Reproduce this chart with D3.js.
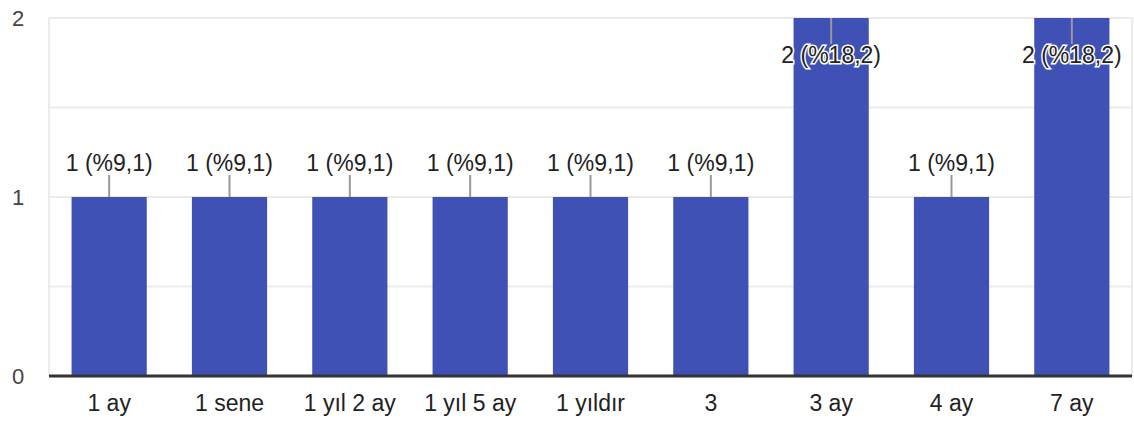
<!DOCTYPE html>
<html>
<head>
<meta charset="utf-8">
<script src="https://cdn.jsdelivr.net/npm/d3@7"></script>
<style>
  body { margin: 0; background: #fff; }
  text { font-family: "Liberation Sans", Arial, sans-serif; }
</style>
</head>
<body>
<div id="chart"></div>
<script>
const categories = ["1 ay", "1 sene", "1 yıl 2 ay", "1 yıl 5 ay", "1 yıldır", "3", "3 ay", "4 ay", "7 ay"];
const counts = [1, 1, 1, 1, 1, 1, 2, 1, 2];
const percents = ["9,1", "9,1", "9,1", "9,1", "9,1", "9,1", "18,2", "9,1", "18,2"];
const yTicks = [0, 1, 2];
const gridTicks = [0.5, 1, 1.5, 2];

const W = 1134, H = 426;
const margin = {top: 18, right: 2, bottom: 50, left: 49};
const width = W - margin.left - margin.right,
      height = H - margin.top - margin.bottom;

const svg = d3.select("#chart").append("svg")
    .attr("width", W).attr("height", H);
const g = svg.append("g")
    .attr("transform", `translate(${margin.left},${margin.top})`);

const x = d3.scaleBand()
    .domain(categories)
    .range([0, width])
    .paddingInner(0.375)
    .paddingOuter(0.1875);

const y = d3.scaleLinear()
    .domain([0, 2])
    .range([height, 0]);

// grid
g.selectAll(".grid")
    .data(gridTicks)
    .enter().append("line")
    .attr("x1", 0).attr("x2", width)
    .attr("y1", d => y(d)).attr("y2", d => y(d))
    .attr("stroke", "#ebebeb").attr("stroke-width", 2);

g.append("line")
    .attr("x1", 0).attr("x2", 0)
    .attr("y1", 0).attr("y2", height)
    .attr("stroke", "#ebebeb").attr("stroke-width", 2);
g.append("line")
    .attr("x1", width).attr("x2", width)
    .attr("y1", 0).attr("y2", height)
    .attr("stroke", "#ebebeb").attr("stroke-width", 2);

// y labels
g.selectAll(".ylab")
    .data(yTicks)
    .enter().append("text")
    .attr("x", -31).attr("y", d => y(d))
    .attr("dy", "0.35em")
    .attr("text-anchor", "middle")
    .attr("font-size", 22)
    .attr("fill", "#444")
    .text(d => d);

// bars
g.selectAll(".bar")
    .data(counts)
    .enter().append("rect")
    .attr("x", (d, i) => x(categories[i]))
    .attr("y", d => y(d))
    .attr("width", x.bandwidth())
    .attr("height", d => height - y(d))
    .attr("fill", "#3f51b5");

// baseline
g.append("line")
    .attr("x1", 0).attr("x2", width)
    .attr("y1", height).attr("y2", height)
    .attr("stroke", "#333").attr("stroke-width", 3);

// x labels
g.selectAll(".xlab")
    .data(categories)
    .enter().append("text")
    .attr("x", d => x(d) + x.bandwidth() / 2)
    .attr("y", height + 35)
    .attr("text-anchor", "middle")
    .attr("font-size", 23)
    .attr("fill", "#222")
    .text(d => d);

// value annotations
const ann = g.selectAll(".ann")
    .data(counts)
    .enter().append("g")
    .attr("transform", (d, i) => `translate(${x(categories[i]) + x.bandwidth() / 2},${y(d)})`);

ann.append("line")
    .attr("x1", 0).attr("x2", 0)
    .attr("y1", 0)
    .attr("y2", d => d === 2 ? 26 : -22)
    .attr("stroke", "#999").attr("stroke-width", 2);

ann.append("text")
    .attr("y", d => d === 2 ? 45 : -26)
    .attr("text-anchor", "middle")
    .attr("font-size", 23)
    .attr("fill", "#222")
    .attr("stroke", d => d === 2 ? "#fff" : "none")
    .attr("stroke-width", 3)
    .attr("paint-order", "stroke")
    .text((d, i) => `${d} (%${percents[i]})`);
</script>
</body>
</html>
